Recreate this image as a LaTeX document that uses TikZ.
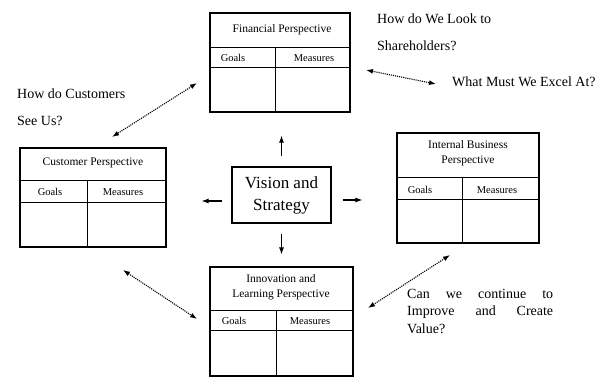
\documentclass[tikz,border=0pt]{standalone}
\usepackage{fontspec}
\setmainfont{Liberation Serif}
\usetikzlibrary{arrows.meta,positioning,calc}

\begin{document}
\begin{tikzpicture}[x=1pt, y=-1pt,
        persp/.style={draw, line width=1.1pt, rectangle, inner sep=0pt},
        rowline/.style={line width=1.1pt},
        boxtitle/.style={font=\fontsize{11.5}{14.5}\selectfont, align=center},
        colhead/.style={font=\fontsize{10.5}{12}\selectfont},
        question/.style={font=\fontsize{14}{27}\selectfont, align=left, inner sep=0pt, anchor=north west},
        vecarrow/.style={-{Latex[length=7pt,width=5pt]}, line width=1.1pt},
        linkarrow/.style={{Latex[length=7pt,width=5pt]}-{Latex[length=7pt,width=5pt]}, densely dotted, line width=1.1pt}]
        \useasboundingbox (0,0) rectangle (603,378);

        % centre
        \node[persp, minimum width=99pt, minimum height=56pt, align=center, font=\fontsize{17}{22}\selectfont] (vis) at (281.5,195) {Vision and\\Strategy};

        % financial
        \node[persp, minimum width=140pt, minimum height=99pt] (fin) at (280,62.5) {};
        \node[boxtitle] (fintitle) at (282,30) {Financial Perspective};
        \draw[rowline] ($(fin.north west)+(0,35)$) -- ($(fin.north east)+(0,35)$);
        \draw[rowline] ($(fin.north west)+(0,55)$) -- ($(fin.north east)+(0,55)$);
        \draw[rowline] ($(fin.north west)+(66,35)$) -- ($(fin.south west)+(66,0)$);
        \node[colhead] (fingoals) at (233,58) {Goals};
        \node[colhead] (finmeas) at (314,58) {Measures};

        % customer
        \node[persp, minimum width=146pt, minimum height=99pt] (cus) at (93,197.5) {};
        \node[boxtitle] (custitle) at (93,163) {Customer Perspective};
        \draw[rowline] ($(cus.north west)+(0,33)$) -- ($(cus.north east)+(0,33)$);
        \draw[rowline] ($(cus.north west)+(0,55)$) -- ($(cus.north east)+(0,55)$);
        \draw[rowline] ($(cus.north west)+(68,33)$) -- ($(cus.south west)+(68,0)$);
        \node[colhead] (cusgoals) at (50,192) {Goals};
        \node[colhead] (cusmeas) at (123,192) {Measures};

        % internal business
        \node[persp, minimum width=142pt, minimum height=110pt] (ibp) at (468,188) {};
        \node[boxtitle] (ibptitle) at (468,153) {Internal Business\\Perspective};
        \draw[rowline] ($(ibp.north west)+(0,45)$) -- ($(ibp.north east)+(0,45)$);
        \draw[rowline] ($(ibp.north west)+(0,67)$) -- ($(ibp.north east)+(0,67)$);
        \draw[rowline] ($(ibp.north west)+(66,45)$) -- ($(ibp.south west)+(66,0)$);
        \node[colhead] (ibpgoals) at (420,190) {Goals};
        \node[colhead] (ibpmeas) at (497,190) {Measures};

        % innovation and learning
        \node[persp, minimum width=143pt, minimum height=109pt] (inn) at (281.5,321.5) {};
        \node[boxtitle] (inntitle) at (281,287) {Innovation and\\Learning Perspective};
        \draw[rowline] ($(inn.north west)+(0,44)$) -- ($(inn.north east)+(0,44)$);
        \draw[rowline] ($(inn.north west)+(0,64)$) -- ($(inn.north east)+(0,64)$);
        \draw[rowline] ($(inn.north west)+(67,44)$) -- ($(inn.south west)+(67,0)$);
        \node[colhead] (inngoals) at (234,321) {Goals};
        \node[colhead] (innmeas) at (310,321) {Measures};

        % questions
        \node[question] (qfin) at (377,14) {How do We Look to\\Shareholders?};
        \node[question] (qcus) at (17,89) {How do Customers\\See Us?};
        \node[question, anchor=west] (qibp) at (452,82) {What Must We Excel At?};
        \node[question, font=\fontsize{14}{17.5}\selectfont] (qinn) at (407,289) {\makebox[146pt][s]{Can we continue to}\\\makebox[146pt][s]{Improve and Create}\\Value?};

        % arrows from the centre
        \draw[vecarrow, shorten <=10pt, shorten >=23pt] (vis.north) -- (vis.north |- fin.south);
        \draw[vecarrow, shorten <=10pt, shorten >=12pt] (vis.south) -- (vis.south |- inn.north);
        \draw[vecarrow, shorten <=9pt, shorten >=35pt] ([yshift=-6pt]vis.west) -- ([yshift=-6pt]vis.west -| cus.east);
        \draw[vecarrow, shorten <=11pt, shorten >=34pt] ([yshift=-5pt]vis.east) -- ([yshift=-5pt]vis.east -| ibp.west);

        % links between perspectives
        \coordinate (fincus1) at (197,83);
        \coordinate (fincus2) at (112,137);
        \coordinate (finibp1) at (366,70);
        \coordinate (finibp2) at (436,84);
        \coordinate (ibpinn1) at (450,255);
        \coordinate (ibpinn2) at (368,308);
        \coordinate (cusinn1) at (123,270);
        \coordinate (cusinn2) at (197,319);
        \draw[linkarrow] (fincus1) -- (fincus2);
        \draw[linkarrow] (finibp1) -- (finibp2);
        \draw[linkarrow] (ibpinn1) -- (ibpinn2);
        \draw[linkarrow] (cusinn1) -- (cusinn2);
    \end{tikzpicture}
\end{document}
